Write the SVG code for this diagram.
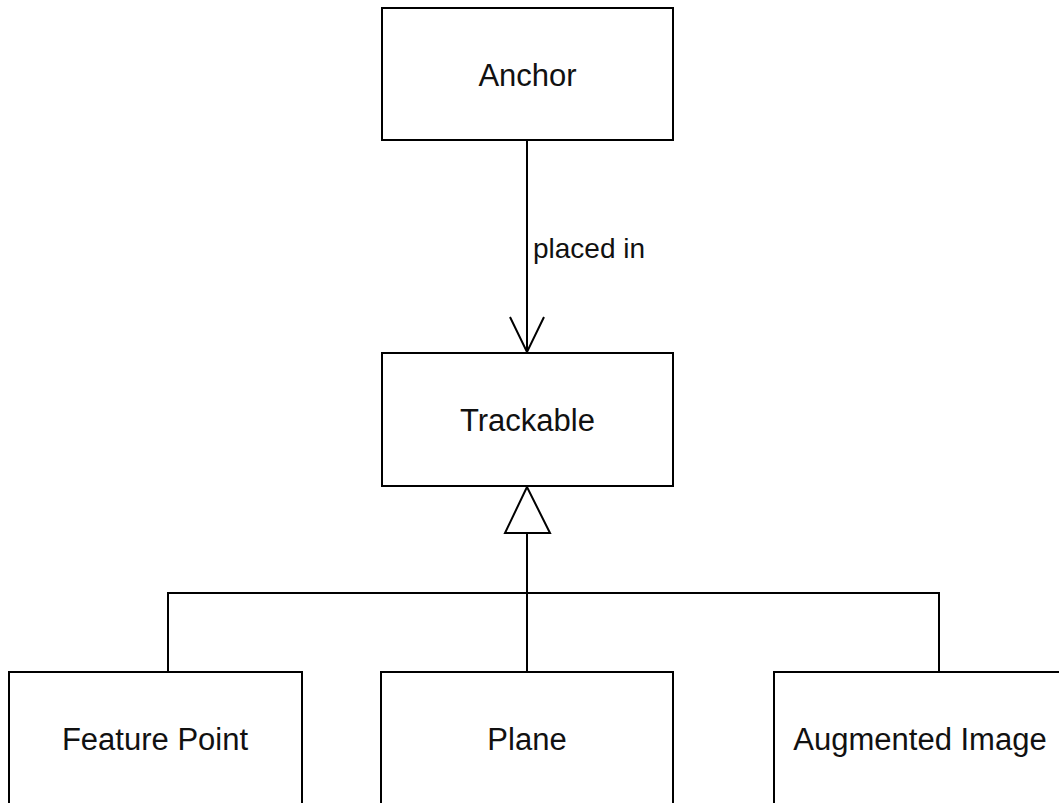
<svg xmlns="http://www.w3.org/2000/svg" width="1059" height="803" viewBox="0 0 1059 803">
  <style>
    .box { fill: #ffffff; stroke: #000000; stroke-width: 2; }
    .lbl { font-family: "Liberation Sans", Helvetica, Arial, sans-serif; font-size: 31px; fill: #111111; text-anchor: middle; dominant-baseline: central; }
    .edge { fill: none; stroke: #000000; stroke-width: 2; }
    .edge-lbl { font-family: "Liberation Sans", Helvetica, Arial, sans-serif; font-size: 28px; fill: #111111; }
  </style>
  <rect width="1059" height="803" fill="#ffffff"/>

  <g id="connectors">
    <!-- Anchor placed in Trackable: open arrow -->
    <g id="edge-placed-in">
      <line class="edge" x1="527" y1="140" x2="527" y2="352"/>
      <polyline class="edge" points="510,317 527,352 544,317"/>
      <text class="edge-lbl" x="533" y="258">placed in</text>
    </g>
    <!-- Generalization tree towards Trackable -->
    <g id="edge-generalization">
      <line class="edge" x1="527" y1="533" x2="527" y2="672"/>
      <polyline class="edge" points="168,672 168,593 939,593 939,672"/>
      <polygon class="edge" points="527,487 505,533 550,533" style="fill:#ffffff"/>
    </g>
  </g>

  <g id="node-anchor">
    <rect class="box" x="382" y="8" width="291" height="132"/>
    <text class="lbl" x="527.5" y="75">Anchor</text>
  </g>

  <g id="node-trackable">
    <rect class="box" x="382" y="353" width="291" height="133"/>
    <text class="lbl" x="527.5" y="420">Trackable</text>
  </g>

  <g id="node-feature-point">
    <rect class="box" x="9" y="672" width="293" height="140"/>
    <text class="lbl" x="155" y="739">Feature Point</text>
  </g>

  <g id="node-plane">
    <rect class="box" x="381" y="672" width="292" height="140"/>
    <text class="lbl" x="527" y="739">Plane</text>
  </g>

  <g id="node-augmented-image">
    <rect class="box" x="774" y="672" width="292" height="140"/>
    <text class="lbl" x="920" y="739">Augmented Image</text>
  </g>
</svg>
